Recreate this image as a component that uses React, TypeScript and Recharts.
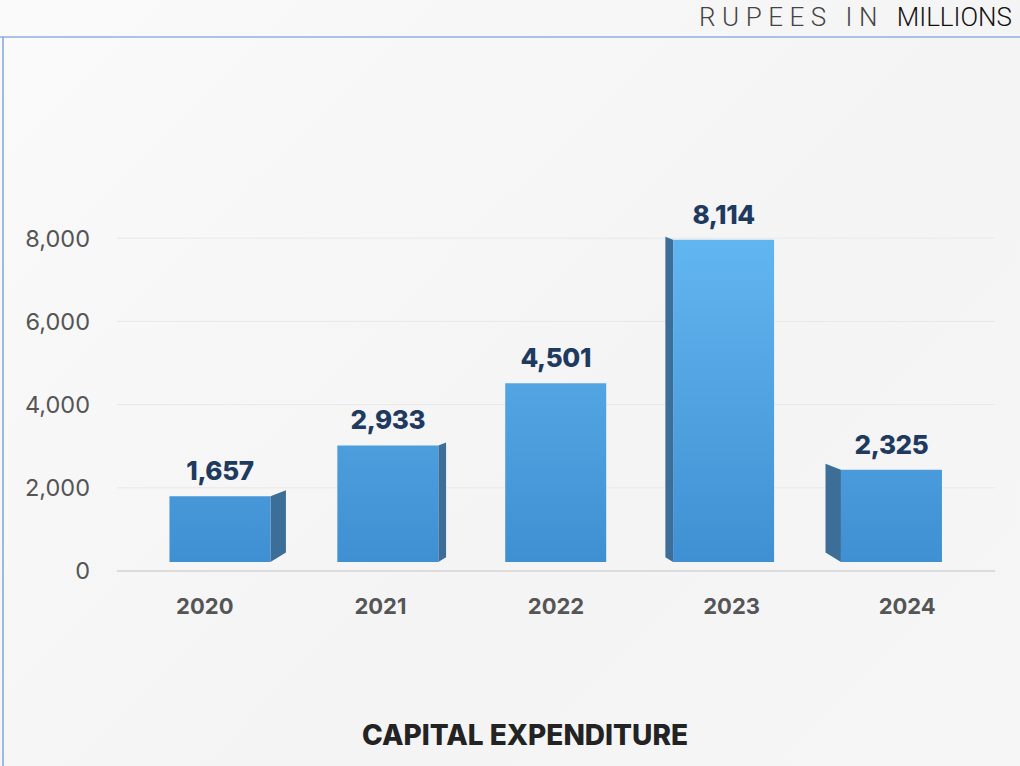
import { BarChart, Bar, XAxis, YAxis, CartesianGrid, LabelList } from "recharts";

const years = ["2020", "2021", "2022", "2023", "2024"];
const capex = [1657, 2933, 4501, 8114, 2325];
const yTicks = [0, 2000, 4000, 6000, 8000];

const data = years.map((year, i) => ({ year, value: capex[i] }));

const FONT = "Inter, 'Open Sans', sans-serif";
const VANISH_X = 556; // centre of perspective
const DEPTH_K = 0.044;
const LIFT = 9;
const FRONT_SCALE = 0.955;

// front face + side face of a pseudo-3D column
function frontBox(x: number, y: number, width: number, height: number) {
  const cx = x + width / 2;
  const d = (VANISH_X - cx) * DEPTH_K;
  const bottom = y + height - LIFT;
  const top = bottom - height * FRONT_SCALE;
  const left = x + d;
  return { d, bottom, top, left, right: left + width };
}

function Column3D(props: any) {
  const { x, y, width, height } = props;
  if (height == null || height <= 0) return null;
  const { d, bottom, top, left, right } = frontBox(x, y, width, height);
  const depth = Math.abs(d);
  let side = null;
  if (depth > 1) {
    const edge = d > 0 ? right : left;
    const far = d > 0 ? right + depth : left - depth;
    const pts = [
      `${edge},${top}`,
      `${far},${top - depth * 0.38}`,
      `${far},${bottom - depth * 0.62}`,
      `${edge},${bottom}`,
    ].join(" ");
    side = <polygon points={pts} fill="#3d6e97" />;
  }
  return (
    <g>
      {side}
      <polygon
        points={`${left},${top} ${right},${top} ${right},${bottom} ${left},${bottom}`}
        fill="url(#frontGrad)"
      />
    </g>
  );
}

function ValueLabel(props: any) {
  const { x, y, width, height, value } = props;
  const { top, left, right } = frontBox(x, y, width, height);
  return (
    <text
      x={(left + right) / 2}
      y={top - 16}
      textAnchor="middle"
      fill="#1f3a5f"
      fontFamily={FONT}
      fontWeight={800}
      fontSize={26}
      letterSpacing={-0.4}
    >
      {Number(value).toLocaleString("en-US")}
    </text>
  );
}

export default function App() {
  return (
    <div
      style={{
        position: "fixed",
        left: 0,
        top: 0,
        width: 1020,
        height: 766,
        background: "linear-gradient(135deg, #fafafa 0%, #f4f4f5 60%, #f6f6f6 100%)",
        overflow: "hidden",
      }}
    >
      <svg width={1020} height={766} style={{ position: "absolute", left: 0, top: 0 }}>
        <line x1={0} y1={37} x2={1020} y2={37} stroke="#8fb1dd" strokeWidth={1.5} />
        <line x1={3} y1={37} x2={3} y2={766} stroke="#7ea6da" strokeWidth={1.5} />
        <text x={1012} y={26} textAnchor="end" fontFamily="Roboto, sans-serif" fontSize={26} fontWeight={300}>
          <tspan fill="#444" letterSpacing={6.5}>RUPEES IN </tspan>
          <tspan fill="#111">MILLIONS</tspan>
        </text>
        <text
          x={525}
          y={745}
          textAnchor="middle"
          fontFamily={FONT}
          fontWeight={800}
          fontSize={28}
          letterSpacing={0}
          fill="#232323"
        >
          CAPITAL EXPENDITURE
        </text>
      </svg>
      <div style={{ position: "absolute", left: 0, top: 0 }}>
        <BarChart
          width={1020}
          height={766}
          data={data}
          margin={{ top: 155, right: 25, bottom: 165, left: 0 }}
          barSize={101}
        >
          <defs>
            <linearGradient id="frontGrad" gradientUnits="userSpaceOnUse" x1={0} y1={235} x2={0} y2={562}>
              <stop offset="0%" stopColor="#62b6f0" />
              <stop offset="100%" stopColor="#3f90d2" />
            </linearGradient>
          </defs>
          <CartesianGrid vertical={false} stroke="#e8e8ea" horizontalValues={yTicks} />
          <XAxis
            dataKey="year"
            height={30}
            axisLine={{ stroke: "#d6d6d8", strokeWidth: 1.5 }}
            tickLine={false}
            tick={{ fill: "#555", fontFamily: FONT, fontWeight: 700, fontSize: 22 }}
            dy={19}
          />
          <YAxis
            width={117}
            domain={[0, 10000]}
            ticks={yTicks}
            axisLine={false}
            tickLine={false}
            tickFormatter={(v: number) => v.toLocaleString("en-US")}
            tick={{ fill: "#555", fontFamily: FONT, fontWeight: 400, fontSize: 23.5 }}
            tickMargin={21}
          />
          <Bar dataKey="value" shape={<Column3D />} isAnimationActive={false}>
            <LabelList dataKey="value" content={<ValueLabel />} />
          </Bar>
        </BarChart>
      </div>
    </div>
  );
}
